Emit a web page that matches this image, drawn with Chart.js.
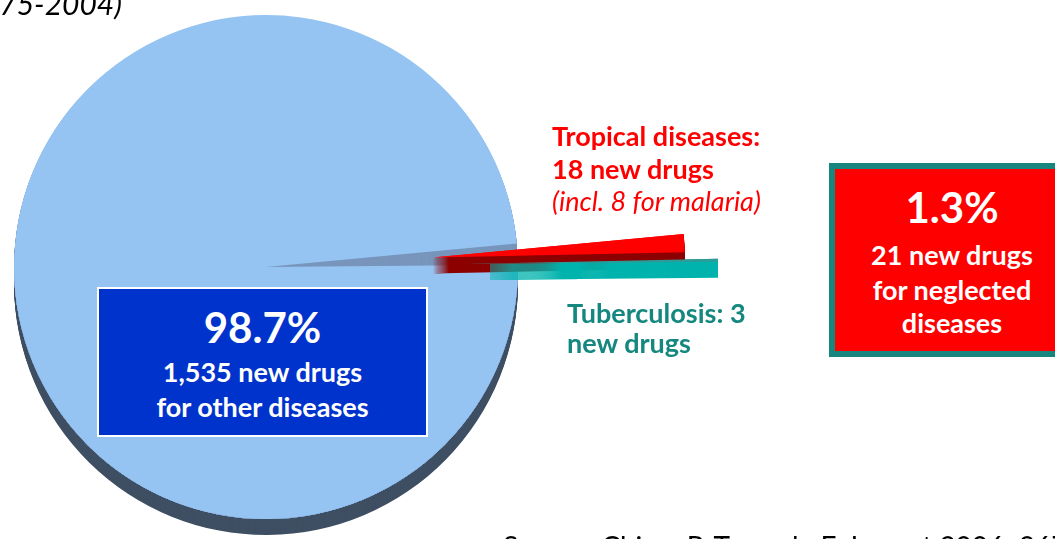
<!DOCTYPE html>
<html>
<head>
<meta charset="utf-8">
<title>New drugs 1975-2004</title>
<script src="https://cdn.jsdelivr.net/npm/chart.js@4.4.1/dist/chart.umd.min.js"></script>
<style>
    html, body { margin: 0; padding: 0; background: #fff; overflow: hidden; }
    body { width: 1055px; height: 539px; position: relative; font-family: Lato, "Open Sans", sans-serif; }
    canvas { position: absolute; left: 0; top: 0; }
    .t { position: absolute; line-height: 1; white-space: nowrap; }
    .b { font-weight: bold; }
    .c { text-align: center; }
    .box { position: absolute; box-sizing: border-box; }
</style>
</head>
<body>
<canvas id="canvas" width="1055" height="539"></canvas>

<!-- labels, boxes -->
<div class="t" style="left:-60px;top:-12px;width:182px;text-align:right;font-size:30px;font-style:italic;color:#000">(1975-2004)</div>

<div class="t b" style="left:552px;top:122px;font-size:27px;color:#ff0000">Tropical diseases:</div>
<div class="t b" style="left:552px;top:155px;font-size:27px;color:#ff0000">18 new drugs</div>
<div class="t" style="left:552px;top:187px;font-size:27px;font-style:italic;color:#ff0000">(incl. 8 for malaria)</div>

<div class="t b" style="left:567px;top:299px;font-size:27px;color:#14877f">Tuberculosis: 3</div>
<div class="t b" style="left:567px;top:329px;font-size:27px;color:#14877f">new drugs</div>

<div class="box" style="left:97px;top:287px;width:331px;height:150px;background:#0033cc;border:2px solid #fff"></div>
<div class="t b c" style="left:97px;top:306px;width:331px;font-size:42px;color:#fff">98.7%</div>
<div class="t b c" style="left:97px;top:358px;width:331px;font-size:27px;color:#fff">1,535 new drugs</div>
<div class="t b c" style="left:97px;top:393px;width:331px;font-size:27px;color:#fff">for other diseases</div>

<div class="box" style="left:829px;top:163px;width:246px;height:194px;background:#ff0000;border:6px solid #16867e"></div>
<div class="t b c" style="left:835px;top:186px;width:234px;font-size:42px;color:#fff">1.3%</div>
<div class="t b c" style="left:835px;top:241px;width:234px;font-size:27px;color:#fff">21 new drugs</div>
<div class="t b c" style="left:835px;top:276px;width:234px;font-size:27px;color:#fff">for neglected</div>
<div class="t b c" style="left:835px;top:309px;width:234px;font-size:27px;color:#fff">diseases</div>

<div class="t" style="left:503px;top:532px;font-size:28px;color:#000">Source: Chirac P, Torreele E. Lancet 2006; 367: 1560-1561</div>

<script>
    // new drugs 1975-2004 by disease group
    const categories = ['Other diseases', 'Tropical diseases', 'Tuberculosis'];
    const newDrugs = [1535, 18, 3];

    const topColors = ['#95c4f3', '#ff0000', '#2b9c98'];
    const sideColors = ['#3f4f63', '#8c0000', '#00b3ad'];
    const innerColor = '#7895bb';    // inside of the big slice, seen through the gap
    const explode = [0, 167, 200];   // how far each slice is pulled out
    const depth = 16;                // thickness of the "3d" pie

    function sector(ctx, arc, dy) {
        ctx.beginPath();
        ctx.moveTo(arc.x, arc.y + dy);
        ctx.arc(arc.x, arc.y + dy, arc.outerRadius, arc.startAngle, arc.endAngle);
        ctx.closePath();
        ctx.fill();
    }

    function extrude(ctx, arc, color) {
        ctx.fillStyle = color;
        for (let d = depth; d >= 1; d--) sector(ctx, arc, d);
    }

    // pull the small slices out to the right
    const explodePlugin = {
        id: 'explode',
        afterDatasetUpdate(chart, args) {
            args.meta.data.forEach(function (arc, i) {
                const d = explode[i];
                if (!d) return;
                const mid = (arc.startAngle + arc.endAngle) / 2;
                arc.x += Math.cos(mid) * d;
                arc.y += Math.sin(mid) * d;
            });
        }
    };

    // fake 3d: darker copies stacked under each slice
    const depthPlugin = {
        id: 'depth',
        beforeDatasetsDraw(chart) {
            const ctx = chart.ctx;
            const arcs = chart.getDatasetMeta(0).data;
            arcs.forEach(function (arc, i) {
                if (explode[i]) return;
                ctx.save();
                extrude(ctx, arc, sideColors[i]);
                // lighter inner face inside the outline of the pie
                ctx.beginPath();
                ctx.arc(arc.x, arc.y, arc.outerRadius, 0, Math.PI * 2);
                ctx.clip();
                extrude(ctx, arc, innerColor);
                ctx.restore();
            });
        },
        afterDatasetsDraw(chart) {
            // exploded slices sit on top of the pie
            const ctx = chart.ctx;
            const arcs = chart.getDatasetMeta(0).data;
            ctx.save();
            arcs.forEach(function (arc, i) {
                if (explode[i]) extrude(ctx, arc, sideColors[i]);
            });
            ctx.restore();
            arcs.forEach(function (arc, i) {
                if (explode[i]) arc.draw(ctx);
            });
        }
    };

    const chart = new Chart(document.getElementById('canvas'), {
        type: 'pie',
        data: {
            labels: categories,
            datasets: [{
                data: newDrugs,
                backgroundColor: topColors,
                borderWidth: 0,
                clip: false
            }]
        },
        options: {
            responsive: false,
            animation: false,
            rotation: 89.5,
            radius: 252,
            layout: { padding: { left: 0, top: 0, right: 523, bottom: 5 } },
            events: [],
            plugins: {
                legend: { display: false },
                tooltip: { enabled: false }
            }
        },
        plugins: [explodePlugin, depthPlugin]
    });
</script>
</body>
</html>
